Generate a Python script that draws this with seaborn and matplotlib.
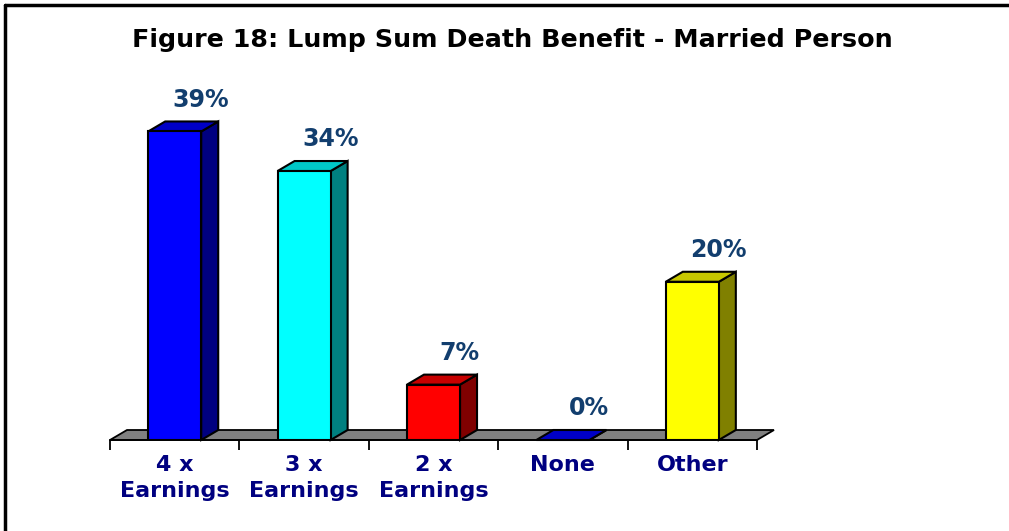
import numpy as np
import pandas as pd
import seaborn as sns
from matplotlib import pyplot as plt
from matplotlib.patches import Polygon
from matplotlib.lines import Line2D
from matplotlib.colors import to_rgb

categories = ['4 x\nEarnings', '3 x\nEarnings', '2 x\nEarnings', 'None', 'Other']
values = [39, 34, 7, 0, 20]
value_labels = ['39%', '34%', '7%', '0%', '20%']
front_colors = ['#0000FF', '#00FFFF', '#FF0000', '#0000FF', '#FFFF00']

sns.set_style('white')
plt.rcParams['font.family'] = ['DejaVu Sans']

df = pd.DataFrame({'category': categories, 'value': values})

fig = plt.figure(figsize=(10.09, 5.31), dpi=100)
ax = fig.add_axes([110 / 1009, 91 / 531, 647 / 1009, 356 / 531])

sns.barplot(data=df, x='category', y='value', hue='category', palette=front_colors,
            width=0.41, saturation=1, edgecolor='black', linewidth=1.5,
            legend=False, ax=ax, zorder=3)

ax.set_xlim(-0.5, len(categories) - 0.5)
ax.set_ylim(0, 45)

# depth of the fake 3D effect, in pixels -> data units
dpx, dpy = 17, 10
x_per_px = (ax.get_xlim()[1] - ax.get_xlim()[0]) / (ax.get_position().width * fig.bbox.width)
y_per_px = (ax.get_ylim()[1] - ax.get_ylim()[0]) / (ax.get_position().height * fig.bbox.height)
ddx, ddy = dpx * x_per_px, dpy * y_per_px

# floor
x0, x1 = ax.get_xlim()
floor = Polygon([(x0, 0), (x1, 0), (x1 + ddx, ddy), (x0 + ddx, ddy)], closed=True,
                facecolor='#808080', edgecolor='black', linewidth=1.3, zorder=1, clip_on=False)
ax.add_patch(floor)

for patch, color in zip(ax.patches[:len(values)], front_colors):
    bx, bw, bh = patch.get_x(), patch.get_width(), patch.get_height()
    rgb = np.array(to_rgb(color))
    top = Polygon([(bx, bh), (bx + bw, bh), (bx + bw + ddx, bh + ddy), (bx + ddx, bh + ddy)],
                  closed=True, facecolor=rgb * 0.78, edgecolor='black', linewidth=1.5,
                  zorder=2.5, clip_on=False)
    side = Polygon([(bx + bw, 0), (bx + bw + ddx, ddy), (bx + bw + ddx, bh + ddy), (bx + bw, bh)],
                   closed=True, facecolor=rgb * 0.5, edgecolor='black', linewidth=1.5,
                   zorder=2.5, clip_on=False)
    ax.add_patch(side)
    ax.add_patch(top)
    if bh == 0:
        patch.set_visible(False)

for i, (v, lab) in enumerate(zip(values, value_labels)):
    ax.annotate(lab, (i, v), xytext=(19, 23), textcoords='offset points',
                ha='center', va='center', fontsize=17, fontweight='bold',
                color='#123E6E', annotation_clip=False)

sns.despine(ax=ax, left=True, top=True, right=True)
ax.spines['bottom'].set_color('black')
ax.spines['bottom'].set_linewidth(1.3)
ax.spines['bottom'].set_zorder(4)
ax.set_yticks([])
ax.set_xlabel('')
ax.set_ylabel('')
ax.set_xticks(np.arange(len(categories) + 1) - 0.5, minor=True)
ax.tick_params(axis='x', which='minor', length=7, width=1.3, color='black', direction='out', bottom=True)
ax.tick_params(axis='x', which='major', length=0, pad=11)
for t in ax.get_xticklabels():
    t.set_fontsize(16)
    t.set_fontweight('bold')
    t.set_color('#000080')
    t.set_linespacing(1.38)
    t.set_va('top')

fig.text(512 / 1009, 1 - 40 / 531, 'Figure 18: Lump Sum Death Benefit - Married Person',
         ha='center', va='center', fontsize=18.3, fontweight='bold', color='black')

# partial frame around the chart
fig.add_artist(Line2D([5 / 1009, 1], [1 - 5 / 531, 1 - 5 / 531], color='black', linewidth=2.5))
fig.add_artist(Line2D([5 / 1009, 5 / 1009], [0, 1 - 5 / 531], color='black', linewidth=2.5))

plt.savefig('out.png', dpi=100)
